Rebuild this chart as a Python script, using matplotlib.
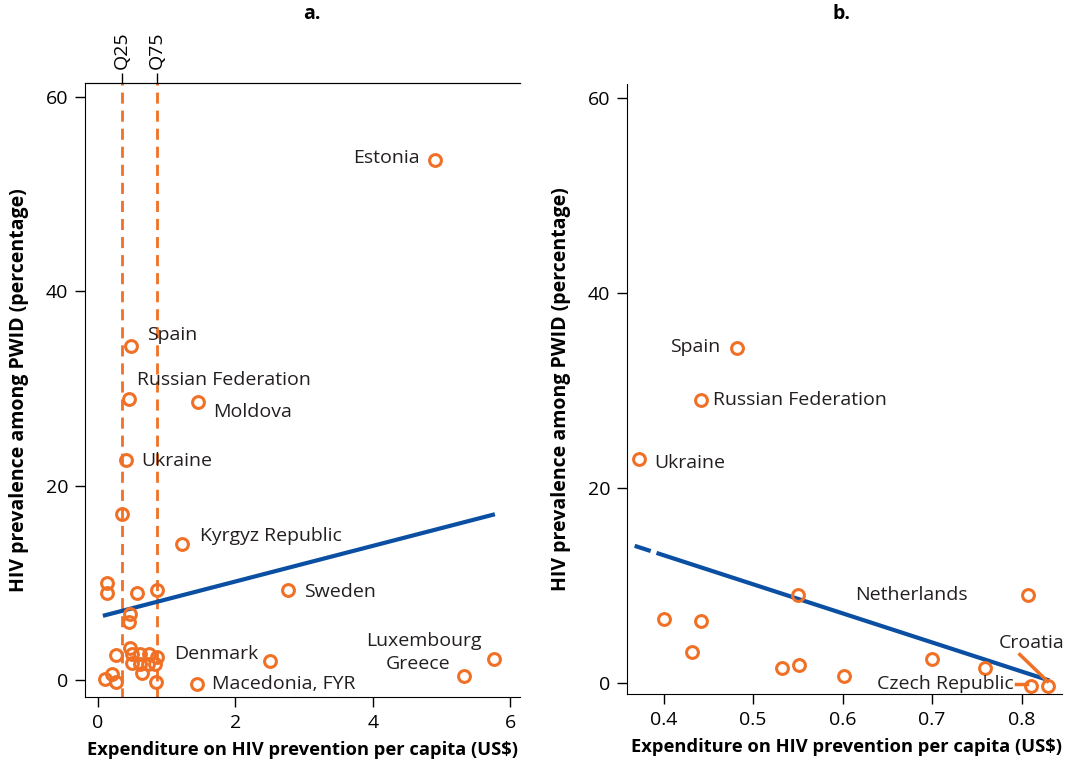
"""
Scatter of HIV prevalence among PWID against prevention spending, two panels.
"""

import matplotlib
matplotlib.use("Agg")
import matplotlib.pyplot as plt

ORANGE = "#F07126"
BLUE = "#0B4FA3"

# panel a: all countries
A_X = [4.91, 0.48, 0.45, 1.46, 0.41, 0.35, 1.22, 2.77, 0.13, 0.13, 0.57, 0.86,
       0.47, 0.45, 0.47, 0.26, 0.49, 0.61, 0.74, 0.86, 0.49, 0.61, 0.73, 0.83,
       0.64, 0.10, 0.20, 0.26, 0.84, 2.50, 1.44, 5.33, 5.76]
A_Y = [53.5, 34.3, 28.9, 28.6, 22.6, 17.1, 14.0, 9.25, 10.0, 8.9, 8.9, 9.25,
       6.8, 6.0, 3.3, 2.6, 2.7, 2.7, 2.7, 2.4, 1.75, 1.65, 1.65, 1.65,
       0.7, 0.1, 0.6, -0.2, -0.2, 1.95, -0.4, 0.4, 2.2]
A_LABELS = {
    "Estonia": (4.91, 53.5, -0.23, 0.2, "right"),
    "Spain": (0.48, 34.3, 0.23, 1.2, "left"),
    "Russian Federation": (0.45, 28.9, 0.12, 2.0, "left"),
    "Moldova": (1.46, 28.6, 0.21, -1.0, "left"),
    "Ukraine": (0.41, 22.6, 0.22, -0.1, "left"),
    "Kyrgyz Republic": (1.22, 14.0, 0.26, 0.8, "left"),
    "Sweden": (2.77, 9.25, 0.23, -0.2, "left"),
    "Denmark": (0.86, 2.4, 0.25, 0.3, "left"),
    "Macedonia, FYR": (1.44, -0.4, 0.22, 0.0, "left"),
    "Luxembourg": (5.76, 2.2, -0.17, 1.8, "right"),
    "Greece": (5.33, 0.4, -0.20, 1.2, "right"),
}
Q25, Q75 = 0.35, 0.86
A_FIT_X = [0.07, 5.78]
A_FIT_INTERCEPT, A_FIT_SLOPE = 6.47, 1.83

# panel b: subset
B_X = [0.482, 0.442, 0.373, 0.807, 0.550, 0.400, 0.442, 0.432, 0.532, 0.551,
       0.601, 0.700, 0.759, 0.810, 0.830]
B_Y = [34.4, 29.0, 23.0, 9.1, 9.1, 6.55, 6.35, 3.2, 1.6, 1.9,
       0.7, 2.45, 1.6, -0.3, -0.3]
B_LABELS = {
    "Spain": (0.482, 34.4, -0.019, 0.1, "right"),
    "Russian Federation": (0.442, 29.0, 0.013, 0.1, "left"),
    "Ukraine": (0.373, 23.0, 0.016, -0.4, "left"),
    "Netherlands": (0.807, 9.1, -0.067, 0.0, "right"),
}
B_FIT_INTERCEPT, B_FIT_SLOPE = 25.05, -29.8

XLABEL = "Expenditure on HIV prevention per capita (US$)"
YLABEL = "HIV prevalence among PWID (percentage)"


def fit(x, a, b):
    return a + b * x


def style_axis(ax, xloc="center"):
    ax.spines["right"].set_visible(False)
    ax.tick_params(direction="out", length=7, width=1, labelsize=14, pad=5)
    ax.set_xlabel(XLABEL, fontsize=13.2, fontweight="bold", labelpad=7,
                  loc=xloc)
    ax.set_ylabel(YLABEL, fontsize=14, fontweight="bold", labelpad=12)


def main():
    plt.rcParams["font.family"] = ["Open Sans", "DejaVu Sans"]
    fig = plt.figure(figsize=(10.67, 7.65), dpi=100)

    # ---- panel a
    ax = fig.add_axes([0.0797, 0.0889, 0.4073, 0.8026])
    ax.plot([Q25, Q25], [-2, 62], color=ORANGE, lw=2, ls=(0, (4, 2.5)))
    ax.plot([Q75, Q75], [-2, 62], color=ORANGE, lw=2, ls=(0, (4, 2.5)))
    ax.plot(A_FIT_X, [fit(x, A_FIT_INTERCEPT, A_FIT_SLOPE) for x in A_FIT_X],
            color=BLUE, lw=3, solid_capstyle="butt")
    ax.plot(A_X, A_Y, "o", mfc="none", mec=ORANGE, mew=2.2, ms=8.5)
    for name, (x, y, dx, dy, ha) in A_LABELS.items():
        ax.text(x + dx, y + dy, name, fontsize=14, ha=ha, va="center",
                color="#231f20")
    ax.set_xlim(-0.19, 6.14)
    ax.set_ylim(-1.75, 61.4)
    ax.set_xticks([0, 2, 4, 6])
    ax.set_yticks([0, 20, 40, 60])
    style_axis(ax)
    top = ax.twiny()
    top.set_xlim(ax.get_xlim())
    top.set_xticks([Q25, Q75])
    top.set_xticklabels(["Q25", "Q75"], rotation=90, fontsize=14)
    top.tick_params(direction="out", length=7, width=1, pad=3)
    for side in ("left", "right", "bottom"):
        top.spines[side].set_visible(False)
    fig.text(0.2925, 0.982, "a.", fontsize=14, fontweight="bold",
             ha="center", va="center")

    # ---- panel b
    bx = fig.add_axes([0.5876, 0.0928, 0.4076, 0.798])
    seg1 = [0.3676, 0.3855]
    seg2 = [0.392, 0.831]
    bx.plot(seg1, [fit(x, B_FIT_INTERCEPT, B_FIT_SLOPE) for x in seg1],
            color=BLUE, lw=3, solid_capstyle="butt")
    bx.plot(seg2, [fit(x, B_FIT_INTERCEPT, B_FIT_SLOPE) for x in seg2],
            color=BLUE, lw=3, solid_capstyle="butt")
    bx.plot(B_X, B_Y, "o", mfc="none", mec=ORANGE, mew=2.2, ms=8.5)
    for name, (x, y, dx, dy, ha) in B_LABELS.items():
        bx.text(x + dx, y + dy, name, fontsize=14, ha=ha, va="center",
                color="#231f20")
    # leader lines for crowded points
    bx.plot([0.794, 0.806], [-0.1, -0.1], color=ORANGE, lw=2.5)
    bx.plot([0.798, 0.829], [2.95, 0.2], color=ORANGE, lw=2.5)
    bx.text(0.791, -0.1, "Czech Republic", fontsize=14, ha="right",
            va="center", color="#231f20")
    bx.text(0.811, 4.1, "Croatia", fontsize=14, ha="center", va="center",
            color="#231f20")
    bx.set_xlim(0.359, 0.845)
    bx.set_ylim(-1.1, 61.5)
    bx.set_xticks([0.4, 0.5, 0.6, 0.7, 0.8])
    bx.set_xticklabels(["0.4", "0.5", "0.6", "0.7", "0.8"])
    bx.set_yticks([0, 20, 40, 60])
    bx.spines["top"].set_visible(False)
    style_axis(bx, xloc="right")
    fig.text(0.789, 0.982, "b.", fontsize=14, fontweight="bold",
             ha="center", va="center")

    fig.savefig("out.png", dpi=100)


if __name__ == "__main__":
    main()
